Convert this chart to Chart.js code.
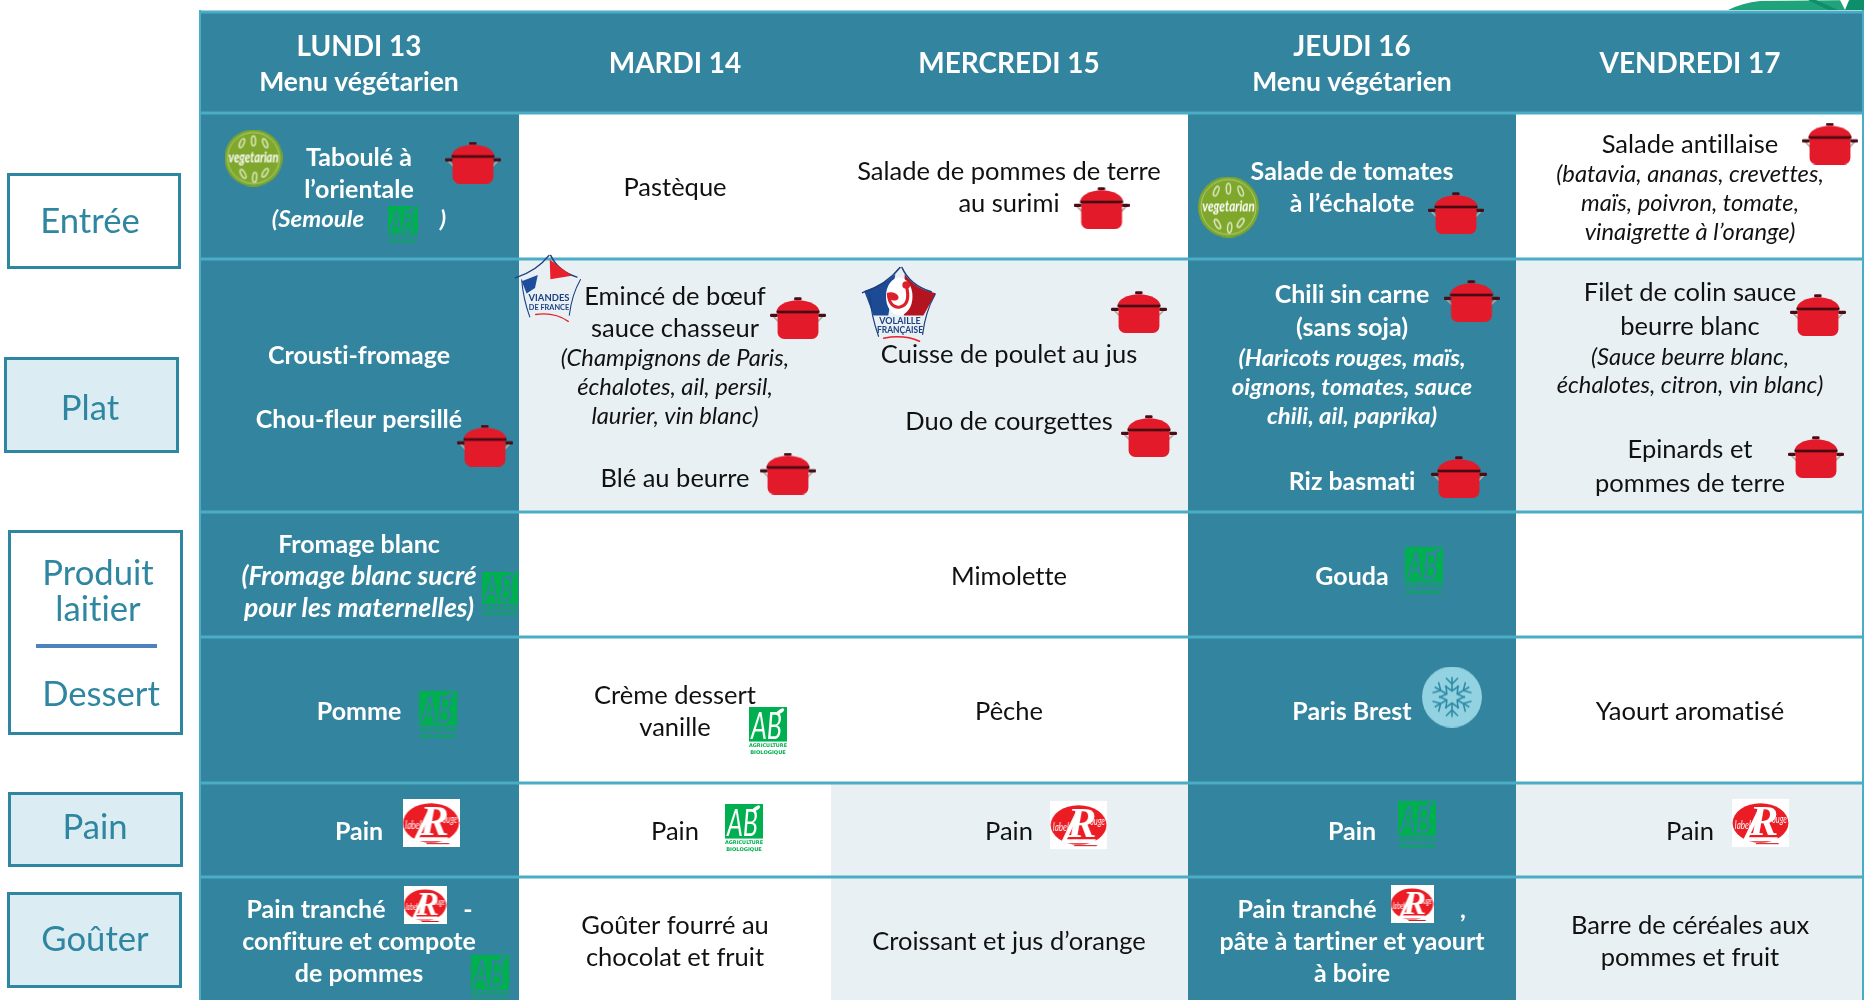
<!DOCTYPE html>
<html lang="fr">
<head>
<meta charset="utf-8">
<title>Menu de la semaine</title>
<script src="https://cdn.jsdelivr.net/npm/chart.js@4/dist/chart.umd.min.js"></script>
<style>
    html, body { margin: 0; padding: 0; background: #fff; overflow: hidden; }
    canvas { display: block; }
</style>
</head>
<body>
<canvas id="menuChart" width="1864" height="1000"></canvas>
<script>
// menu content
const days = [['LUNDI 13', 'Menu végétarien'], ['MARDI 14'], ['MERCREDI 15'], ['JEUDI 16', 'Menu végétarien'], ['VENDREDI 17']];
const mealLabels = ['Entrée', 'Plat', 'Produit', 'laitier', 'Dessert', 'Pain', 'Goûter'];
const entree = [
    ['Taboulé à', 'l’orientale', '(Semoule', ')'],
    ['Pastèque'],
    ['Salade de pommes de terre', 'au surimi'],
    ['Salade de tomates', 'à l’échalote'],
    ['Salade antillaise', '(batavia, ananas, crevettes,', 'maïs, poivron, tomate,', 'vinaigrette à l’orange)']
];
const plat = [
    ['Crousti-fromage', 'Chou-fleur persillé'],
    ['Emincé de bœuf', 'sauce chasseur', '(Champignons de Paris,', 'échalotes, ail, persil,', 'laurier, vin blanc)', 'Blé au beurre'],
    ['Cuisse de poulet au jus', 'Duo de courgettes'],
    ['Chili sin carne', '(sans soja)', '(Haricots rouges, maïs,', 'oignons, tomates, sauce', 'chili, ail, paprika)', 'Riz basmati'],
    ['Filet de colin sauce', 'beurre blanc', '(Sauce beurre blanc,', 'échalotes, citron, vin blanc)', 'Epinards et', 'pommes de terre']
];
const laitier = [
    ['Fromage blanc', '(Fromage blanc sucré', 'pour les maternelles)'],
    [],
    ['Mimolette'],
    ['Gouda'],
    []
];
const dessert = [['Pomme'], ['Crème dessert', 'vanille'], ['Pêche'], ['Paris Brest'], ['Yaourt aromatisé']];
const pain = [['Pain'], ['Pain'], ['Pain'], ['Pain'], ['Pain']];
const gouter = [
    ['Pain tranché', '-', 'confiture et compote', 'de pommes'],
    ['Goûter fourré au', 'chocolat et fruit'],
    ['Croissant et jus d’orange'],
    ['Pain tranché', ',', 'pâte à tartiner et yaourt', 'à boire'],
    ['Barre de céréales aux', 'pommes et fruit']
];
const meals = [entree, plat, laitier, dessert, pain, gouter];

// table layout, in reference pixels
const colEdges = [199, 519, 831, 1188, 1516, 1864];
const rowEdges = [12, 113, 259, 512, 637, 783, 877, 1000];
const colCenters = [359, 675, 1009, 1352, 1690];
const TEAL = '#33849E', RULE = '#4BACC6', PALE = '#E9F0F4', WHITE = '#FFFFFF', BOX = '#DBEDF3';
// one colour per row (header first) for each column
const colShades = [
    [TEAL, TEAL, TEAL, TEAL, TEAL, TEAL, TEAL],
    [TEAL, WHITE, PALE, WHITE, WHITE, WHITE, WHITE],
    [TEAL, WHITE, PALE, WHITE, WHITE, PALE, PALE],
    [TEAL, TEAL, TEAL, TEAL, TEAL, TEAL, TEAL],
    [TEAL, WHITE, PALE, WHITE, WHITE, PALE, PALE]
];
const boxes = [
    { x0: 7, x1: 181, y0: 173, y1: 269, fill: WHITE },
    { x0: 4, x1: 179, y0: 357, y1: 453, fill: BOX },
    { x0: 8, x1: 183, y0: 530, y1: 735, fill: WHITE },
    { x0: 8, x1: 183, y0: 792, y1: 867, fill: BOX },
    { x0: 7, x1: 182, y0: 892, y1: 988, fill: BOX }
];

// baselines for each line of each cell: [y, style, optional x]
const headerPos = [[[56, 'h'], [91, 'h2']], [[73, 'h']], [[73, 'h']], [[56, 'h'], [91, 'h2']], [[73, 'h']]];
const mealPos = [
    [[[165.5, 'b'], [197.5, 'b'], [226.5, 'bi', 318], [226.5, 'bi', 443]], [[196, 'n']], [[180, 'n'], [212, 'n']], [[180, 'b'], [212, 'b']], [[153, 'n'], [182, 'i'], [211, 'i'], [240, 'i']]],
    [[[363.5, 'b'], [427.5, 'b']], [[305, 'n'], [337, 'n'], [366, 'i'], [395, 'i'], [423.5, 'i'], [486.5, 'n']], [[362.5, 'n'], [430, 'n']], [[303, 'b'], [336, 'b'], [366, 'bi'], [395, 'bi'], [423.5, 'bi'], [490, 'b']], [[301, 'n'], [335, 'n'], [364.5, 'i'], [392.5, 'i'], [457.5, 'n'], [492, 'n']]],
    [[[552.5, 'b'], [584.5, 'bi2'], [616.5, 'bi2']], [], [[585, 'n']], [[585, 'b']], []],
    [[[719.5, 'b']], [[704, 'n'], [736, 'n']], [[720, 'n']], [[720, 'b']], [[720, 'n']]],
    [[[839.5, 'b']], [[839.5, 'n']], [[839.5, 'n']], [[839.5, 'b']], [[839.5, 'n']]],
    [[[917.5, 'b', 316], [917.5, 'b', 468], [950, 'b'], [982, 'b']], [[934, 'n'], [966, 'n']], [[950, 'n']], [[917.5, 'b', 1307], [917.5, 'b', 1463], [950, 'b'], [982, 'b']], [[934, 'n'], [966, 'n']]]
];
const labelPos = [[90, 232.5], [90, 420], [98, 585], [98, 621], [101, 706], [95, 839], [95, 951]];

const fontStyles = {
    h: { font: 'bold 28.5px Lato', color: '#fff', sx: 0.98 },
    h2: { font: 'bold 26.5px Lato', color: '#fff', sx: 1 },
    b: { font: 'bold 25.5px Lato', color: '#fff', sx: 0.98 },
    bi: { font: 'italic bold 23.5px Lato', color: '#fff', sx: 1.02 },
    bi2: { font: 'italic bold 26px Lato', color: '#fff', sx: 1.02 },
    n: { font: '25.5px Lato', color: '#111', sx: 1 },
    i: { font: 'italic 23.5px Lato', color: '#111', sx: 1.01 },
    label: { font: '35px Lato', color: '#2F86A0', sx: 0.99 }
};

// logo positions
const potSpots = [[473, 162.5], [485, 445.5], [1101.6, 208], [798, 318], [788, 473.5], [1139, 312], [1149, 436], [1456, 213], [1830, 143.5], [1471.5, 301], [1459, 477], [1818, 315], [1816, 457]];
const abLarge = [[438, 715], [768, 731], [744, 828], [1424, 571], [1417, 825], [490, 979]];
const abSmall = [[500, 594]];
const abTiny = [[403, 224.5]];
const rougeLarge = [[431, 823], [1078.6, 825], [1760.5, 823]];
const rougeSmall = [[425, 905], [1412, 904]];
const vegSmall = [[253.5, 158]];
const vegLarge = [[1228.4, 207]];

function newIcon(w, h, drawFn) {
    const c = document.createElement('canvas');
    c.width = w;
    c.height = h;
    drawFn(c.getContext('2d'), w, h);
    return c;
}

function roundBox(ctx, x, y, w, h, r) {
    ctx.beginPath();
    ctx.roundRect(x, y, w, h, r);
    ctx.fill();
}

function drawPot(ctx, w, h) {
    ctx.scale(w / 170, h / 126);
    ctx.strokeStyle = '#B3AA9C';
    ctx.lineWidth = 5;
    ctx.beginPath(); ctx.moveTo(10, 58); ctx.lineTo(28, 76); ctx.moveTo(160, 58); ctx.lineTo(142, 76); ctx.stroke();
    ctx.fillStyle = '#4A0D18';
    roundBox(ctx, 0, 50, 24, 10, 4);
    roundBox(ctx, 146, 50, 24, 10, 4);
    roundBox(ctx, 73, 1, 23, 9, 4);
    ctx.fillStyle = '#E31A2A';
    ctx.beginPath(); ctx.ellipse(85, 45, 65, 35, 0, Math.PI, 0); ctx.fill();
    ctx.beginPath(); ctx.roundRect(23, 45, 124, 81, [0, 0, 20, 20]); ctx.fill();
    ctx.fillStyle = '#4A0A12';
    ctx.fillRect(20, 41, 130, 8);
}

function drawAB(ctx, w, h) {
    const boxH = h * 0.72;
    ctx.fillStyle = '#00B050';
    ctx.fillRect(0, 0, w, boxH);
    ctx.globalCompositeOperation = 'destination-out';
    ctx.fillStyle = '#000';
    ctx.textAlign = 'center';
    ctx.font = `italic ${Math.round(w * 0.95)}px Lato`;
    ctx.fillText('AB', w * 0.46, boxH * 0.94, w * 0.82);
    ctx.beginPath(); ctx.ellipse(w * 0.82, boxH * 0.13, w * 0.12, w * 0.05, -0.6, 0, 7); ctx.fill();
    ctx.globalCompositeOperation = 'source-over';
    ctx.fillStyle = '#00B050';
    ctx.font = `bold ${Math.max(4, w * 0.135)}px "DejaVu Sans"`;
    ctx.fillText('AGRICULTURE', w / 2, h * 0.84, w);
    ctx.fillText('BIOLOGIQUE', w / 2, h * 0.98, w);
}

function drawRouge(ctx, w, h) {
    ctx.fillStyle = '#fff';
    ctx.fillRect(0, 0, w, h);
    ctx.fillStyle = '#EC1C24';
    ctx.beginPath(); ctx.ellipse(w / 2, h * 0.5, w * 0.49, h * 0.41, 0, 0, 7); ctx.fill();
    // big R sitting on the slanted L
    ctx.fillStyle = '#fff';
    ctx.textAlign = 'center';
    ctx.font = `italic bold ${h * 0.9}px "Liberation Serif"`;
    ctx.fillText('R', w * 0.56, h * 0.76);
    ctx.strokeStyle = '#fff';
    ctx.lineWidth = w * 0.07;
    ctx.beginPath(); ctx.moveTo(w * 0.5, h * 0.2); ctx.lineTo(w * 0.24, h * 0.84); ctx.lineTo(w * 0.8, h * 0.84); ctx.stroke();
    ctx.font = `italic ${h * 0.24}px Lato`;
    ctx.textAlign = 'left';
    ctx.fillText('label', w * 0.05, h * 0.62, w * 0.28);
    ctx.fillText('ouge', w * 0.7, h * 0.5, w * 0.26);
    ctx.fillStyle = '#C9151D';
    ctx.fillRect(w * 0.42, h * 0.92, w * 0.4, 1);
}

function drawVeg(ctx, w, h) {
    ctx.fillStyle = '#7EA72B';
    ctx.beginPath(); ctx.ellipse(w / 2, h / 2, w / 2, h / 2, 0, 0, 7); ctx.fill();
    ctx.strokeStyle = '#B4CE7C';
    ctx.lineWidth = 1;
    ctx.beginPath(); ctx.ellipse(w / 2, h / 2, w / 2 - 3, h / 2 - 3, 0, 0, 7); ctx.stroke();
    ctx.strokeStyle = '#DDE8BF';
    ctx.lineWidth = 1.5;
    const marks = [[0.3, 0.24, 0.4], [0.5, 0.2, 0], [0.7, 0.24, -0.4], [0.32, 0.78, -0.5], [0.52, 0.84, 0.1], [0.7, 0.76, 0.6]];
    marks.forEach(([mx, my, a]) => {
        ctx.beginPath(); ctx.ellipse(mx * w, my * h, w * 0.035, h * 0.085, a, 0, 7); ctx.stroke();
    });
    ctx.fillStyle = '#fff';
    ctx.textAlign = 'center';
    ctx.font = `italic bold ${w * 0.26}px Lato`;
    ctx.fillText('vegetarian', w / 2, h * 0.58, w * 0.86);
}

function drawFlake(ctx, w, h) {
    ctx.fillStyle = '#93D2E1';
    ctx.beginPath(); ctx.ellipse(w / 2, h / 2, w / 2, h / 2, 0, 0, 7); ctx.fill();
    ctx.strokeStyle = '#2F8CA6';
    ctx.lineWidth = 1.6;
    ctx.translate(w / 2, h / 2);
    for (let k = 0; k < 6; k++) {
        ctx.rotate(Math.PI / 3);
        ctx.beginPath();
        ctx.moveTo(0, -6); ctx.lineTo(0, -20);
        ctx.moveTo(-6, -19); ctx.lineTo(0, -13); ctx.lineTo(6, -19);
        ctx.moveTo(-7, -11); ctx.lineTo(0, -6); ctx.lineTo(7, -11);
        ctx.stroke();
    }
}

function drawTent(ctx) {
    ctx.strokeStyle = '#1B3F80';
    ctx.lineCap = 'round';
    ctx.lineWidth = 4;
    ctx.beginPath(); ctx.moveTo(4, 70); ctx.quadraticCurveTo(65, 50, 100, 4); ctx.stroke();
    ctx.beginPath(); ctx.moveTo(105, 4); ctx.quadraticCurveTo(125, 50, 180, 68); ctx.stroke();
    ctx.lineWidth = 3;
    ctx.beginPath(); ctx.moveTo(190, 75); ctx.quadraticCurveTo(165, 120, 158, 180); ctx.stroke();
    ctx.beginPath(); ctx.moveTo(22, 76); ctx.quadraticCurveTo(26, 130, 45, 185); ctx.stroke();
}

function drawViandes(ctx, w, h) {
    ctx.scale(w / 200, h / 200);
    drawTent(ctx);
    ctx.fillStyle = '#1C4E9C';
    ctx.beginPath(); ctx.moveTo(22, 80); ctx.lineTo(68, 62); ctx.lineTo(60, 100); ctx.lineTo(36, 116); ctx.fill();
    ctx.fillStyle = '#E8202C';
    ctx.beginPath(); ctx.moveTo(102, 16); ctx.lineTo(165, 64); ctx.lineTo(104, 74); ctx.fill();
    ctx.fillStyle = '#1B3F80';
    ctx.textAlign = 'center';
    ctx.font = 'bold 27px Lato';
    ctx.fillText('VIANDES', 100, 138, 118);
    ctx.font = 'bold 21px Lato';
    ctx.fillText('DE FRANCE', 100, 164, 118);
    ctx.strokeStyle = '#E8202C';
    ctx.lineWidth = 4;
    ctx.beginPath(); ctx.moveTo(62, 178); ctx.quadraticCurveTo(115, 170, 155, 198); ctx.stroke();
}

function drawVolaille(ctx, w, h) {
    ctx.scale(w / 200, h / 200);
    ctx.fillStyle = '#1C4A94';
    ctx.beginPath(); ctx.moveTo(8, 66); ctx.quadraticCurveTo(55, 52, 88, 22); ctx.lineTo(70, 130); ctx.lineTo(32, 130); ctx.fill();
    ctx.fillStyle = '#B3141F';
    ctx.beginPath(); ctx.moveTo(112, 22); ctx.quadraticCurveTo(140, 62, 192, 72); ctx.lineTo(160, 130); ctx.lineTo(110, 130); ctx.fill();
    drawTent(ctx);
    ctx.fillStyle = '#fff';
    ctx.beginPath(); ctx.ellipse(98, 80, 34, 50, 0, 0, 7); ctx.fill();
    ctx.strokeStyle = '#DD1F2C';
    ctx.lineWidth = 8;
    ctx.beginPath(); ctx.moveTo(70, 74); ctx.quadraticCurveTo(74, 112, 100, 108); ctx.quadraticCurveTo(126, 102, 118, 60); ctx.stroke();
    ctx.fillStyle = '#DD1F2C';
    ctx.beginPath(); ctx.arc(116, 50, 10, 0, 7); ctx.fill();
    ctx.beginPath(); ctx.ellipse(82, 80, 15, 10, 0.4, 0, 7); ctx.fill();
    ctx.fillStyle = '#1B3F80';
    ctx.textAlign = 'center';
    ctx.font = 'bold 23px Lato';
    ctx.fillText('VOLAILLE', 100, 152, 112);
    ctx.fillText('FRANÇAISE', 100, 176, 118);
    ctx.strokeStyle = '#E8202C';
    ctx.lineWidth = 4;
    ctx.beginPath(); ctx.moveTo(58, 190); ctx.quadraticCurveTo(110, 180, 150, 198); ctx.stroke();
}

function drawLeaves(ctx, w, h) {
    ctx.fillStyle = '#1FA37A';
    ctx.beginPath(); ctx.moveTo(0, h); ctx.quadraticCurveTo(14, 3, 32, 1); ctx.lineTo(w, 0); ctx.lineTo(w, h); ctx.fill();
    ctx.fillStyle = '#0F8E6C';
    ctx.beginPath(); ctx.moveTo(80, 0); ctx.lineTo(88, 0); ctx.lineTo(110, h); ctx.lineTo(100, h); ctx.fill();
    ctx.beginPath(); ctx.moveTo(122, 0); ctx.lineTo(w, 0); ctx.lineTo(w, h); ctx.lineTo(116, h); ctx.fill();
    ctx.fillStyle = '#fff';
    ctx.beginPath(); ctx.moveTo(112, 0); ctx.lineTo(121, 0); ctx.lineTo(117, h); ctx.fill();
}

function iconSet(spots, icon, order) {
    return {
        type: 'scatter',
        data: spots.map(([x, y]) => ({ x, y })),
        pointStyle: icon,
        pointRadius: 1,
        pointHoverRadius: 0,
        pointBorderWidth: 0,
        showLine: false,
        clip: false,
        order: order === undefined ? 0 : order
    };
}

function bars(rows, thickness, colors, order, extra) {
    return Object.assign({
        type: 'bar',
        data: rows,
        grouped: false,
        barThickness: thickness,
        backgroundColor: colors,
        borderWidth: 0,
        borderSkipped: false,
        inflateAmount: 0,
        order
    }, extra || {});
}

const cellSets = colShades.map((shades, c) => bars(
    shades.map((_, r) => ({ x: (colEdges[c] + colEdges[c + 1]) / 2, y: [rowEdges[r], rowEdges[r + 1]] })),
    colEdges[c + 1] - colEdges[c], shades, 4));

const tableMid = (colEdges[0] + colEdges[5]) / 2;
const tableWide = colEdges[5] - colEdges[0];
const ruleSet = bars(rowEdges.slice(0, 7).map(e => ({ x: tableMid, y: [e - 1.5, e + 1.5] })), tableWide, RULE, 2);
const sideSet = bars([colEdges[0] + 1, colEdges[5] - 1].map(x => ({ x, y: [10, 1000] })), 2, RULE, 2);
const boxSets = boxes.map(b => bars([{ x: (b.x0 + b.x1) / 2, y: [b.y0, b.y1] }], b.x1 - b.x0, b.fill, 3, { borderColor: '#2F86A0', borderWidth: 3 }));
const dividerSet = bars([{ x: 96.5, y: [644, 648] }], 121, '#4F81BD', 1);

const textPlugin = {
    id: 'menuText',
    afterDatasetsDraw(chart) {
        const { ctx, scales: { x, y } } = chart;
        const put = (text, vx, vy, styleKey) => {
            const st = fontStyles[styleKey];
            ctx.save();
            ctx.translate(x.getPixelForValue(vx), y.getPixelForValue(vy));
            ctx.scale(st.sx, 1);
            ctx.font = st.font;
            ctx.textRendering = 'optimizeSpeed'; // no tt/ti ligatures from Lato
            ctx.fillStyle = st.color;
            ctx.textAlign = 'center';
            ctx.textBaseline = 'alphabetic';
            ctx.fillText(text, 0, 0);
            ctx.restore();
        };
        days.forEach((lines, c) => lines.forEach((t, i) => put(t, colCenters[c], headerPos[c][i][0], headerPos[c][i][1])));
        meals.forEach((meal, r) => meal.forEach((lines, c) => lines.forEach((t, i) => {
            const [ly, st, lx] = mealPos[r][c][i];
            put(t, lx === undefined ? colCenters[c] : lx, ly, st);
        })));
        mealLabels.forEach((t, i) => put(t, labelPos[i][0], labelPos[i][1], 'label'));
    }
};

new Chart(document.getElementById('menuChart'), {
    data: {
        datasets: [
            ...cellSets,
            ruleSet,
            sideSet,
            ...boxSets,
            dividerSet,
            iconSet(potSpots, newIcon(56, 42, drawPot)),
            iconSet(abLarge, newIcon(38, 48, drawAB)),
            iconSet(abSmall, newIcon(36, 45, drawAB)),
            iconSet(abTiny, newIcon(30, 38, drawAB)),
            iconSet(rougeLarge, newIcon(57, 48, drawRouge)),
            iconSet(rougeSmall, newIcon(43, 38, drawRouge)),
            iconSet(vegSmall, newIcon(58, 57, drawVeg)),
            iconSet(vegLarge, newIcon(61, 61, drawVeg)),
            iconSet([[1452, 697]], newIcon(60, 61, drawFlake)),
            iconSet([[549, 288]], newIcon(70, 68, drawViandes)),
            iconSet([[900, 304]], newIcon(78, 76, drawVolaille)),
            iconSet([[1796, 5]], newIcon(136, 10, drawLeaves), 3)
        ]
    },
    options: {
        responsive: false,
        animation: false,
        events: [],
        layout: { padding: 0, autoPadding: false },
        plugins: { legend: { display: false }, tooltip: { enabled: false } },
        scales: {
            x: { type: 'linear', min: 0, max: 1864, offset: false, display: false },
            y: { type: 'linear', min: 0, max: 1000, reverse: true, display: false }
        }
    },
    plugins: [textPlugin]
});
</script>
</body>
</html>
